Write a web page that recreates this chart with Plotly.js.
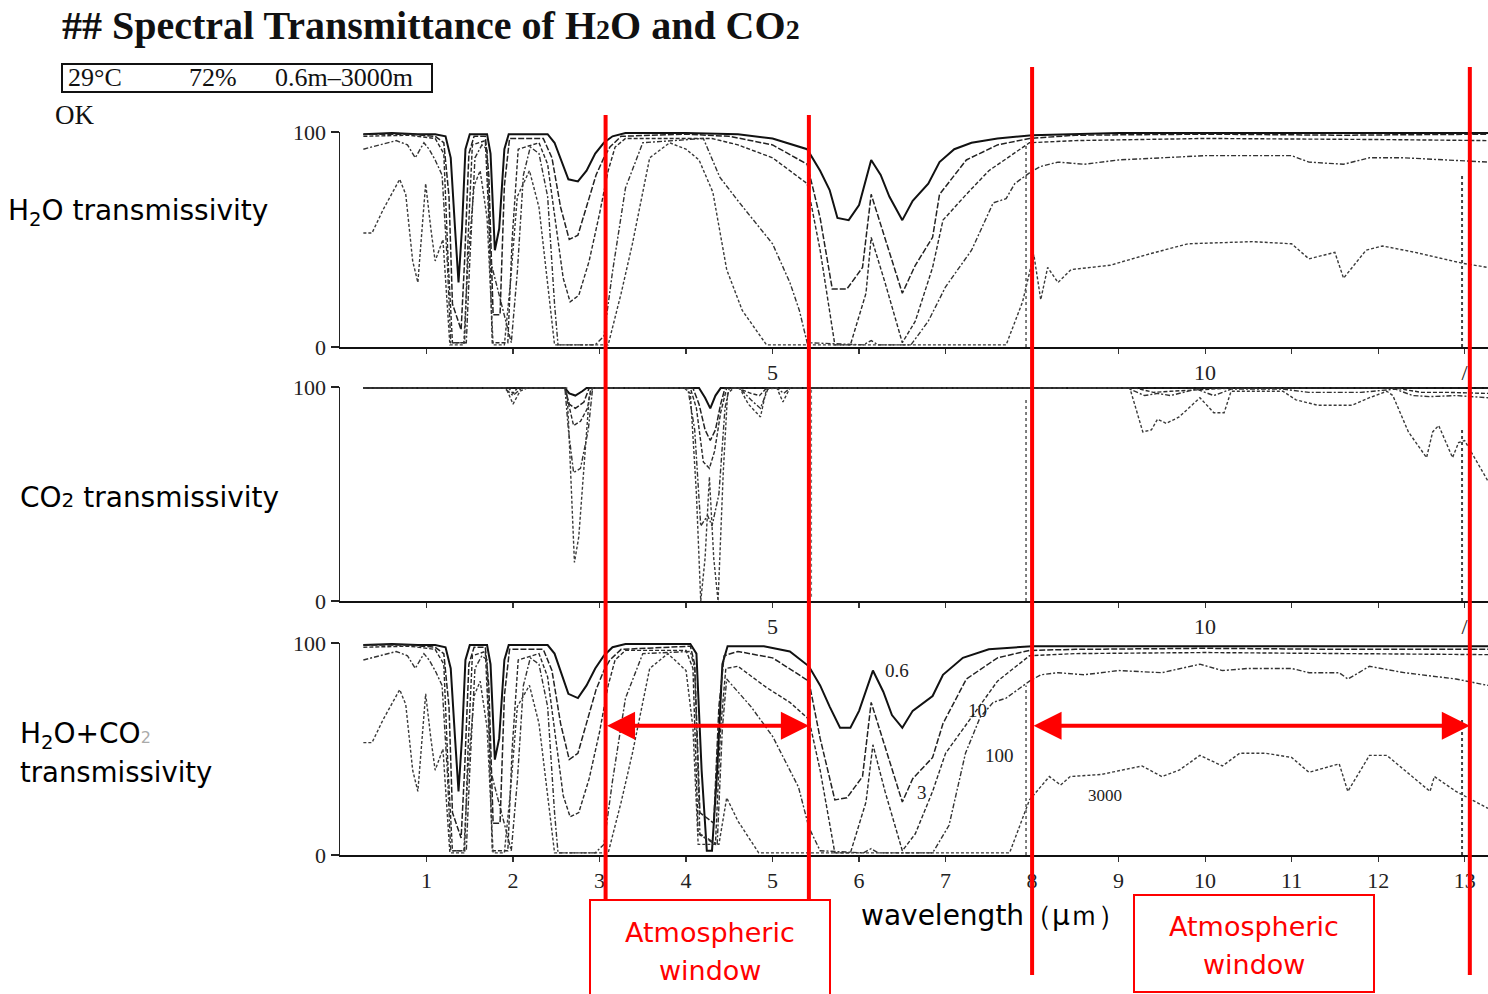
<!DOCTYPE html>
<html>
<head>
<meta charset="utf-8">
<script src="https://cdn.plot.ly/plotly-3.0.1.min.js"></script>
<style>html,body{margin:0;padding:0;background:#fff;}#chart{width:1488px;height:994px;}</style>
</head>
<body>
<div id="chart"></div>
<script>
// ---------- DATA (wavelength in µm, transmittance in %) ----------
const pathLengths = ["0.6", "3", "10", "100", "3000"];

// Panel 1: H2O transmissivity
const h2o_x_06 = [0.27,0.6,0.9,1.1,1.22,1.28,1.33,1.37,1.41,1.45,1.5,1.7,1.74,1.79,1.84,1.9,1.95,2.4,2.48,2.56,2.64,2.75,2.85,2.95,3.05,3.15,3.3,4.0,4.6,5.0,5.4,5.55,5.66,5.75,5.88,6.0,6.14,6.25,6.35,6.5,6.62,6.8,6.93,7.1,7.3,7.6,8.0,9,10,11,12,13,13.27];
const h2o_t_06 = [99,99.5,99,99,98,88,55,30,55,92,99,99,90,45,55,92,99,99,95,86,78,77,82,90,95,98,99.5,99.5,99,97,92,82,73,60,59,66,87,80,70,59,68,76,86,92,95,97,98.5,99.5,99.5,99.5,99.5,99.5,99.5];

const h2o_x_3 = [0.27,0.8,1.1,1.2,1.26,1.3,1.4,1.44,1.49,1.55,1.68,1.72,1.77,1.85,1.9,1.96,2.35,2.45,2.55,2.65,2.75,2.85,2.96,3.05,3.12,3.25,4.0,4.5,5.0,5.4,5.55,5.69,5.86,6.04,6.14,6.32,6.5,6.65,6.85,6.93,7.24,7.6,7.97,8.5,10,11.6,13.27];
const h2o_t_3 = [99,99,98,95,70,20,8,40,90,98,98,80,15,15,75,97,97,88,65,50,52,65,80,88,93,98,99,98,94,85,60,27,27,37,71,48,25,38,51,71,87,94,97,98.5,99,98.5,99];

const h2o_x_10 = [0.27,0.8,1.1,1.2,1.25,1.3,1.44,1.48,1.53,1.68,1.72,1.76,1.94,1.99,2.06,2.3,2.4,2.5,2.58,2.66,2.76,2.88,3.0,3.1,3.18,3.3,4.3,4.6,5.0,5.4,5.55,5.72,5.9,6.08,6.14,6.3,6.5,6.65,6.85,6.97,7.24,7.5,7.97,8.5,10,12,13.27];
const h2o_t_10 = [98,98.5,97,90,40,2,2,50,94,96,60,2,2,50,92,95,85,55,32,21,24,40,62,82,93,97,97,94,88,76,45,1,1,25,51,30,2,12,37,59,71,82,95,96,97,96.5,96];

const h2o_x_100 = [0.27,0.45,0.65,0.78,0.87,0.97,1.03,1.1,1.18,1.24,1.28,1.46,1.5,1.56,1.64,1.7,1.74,1.98,2.05,2.12,2.2,2.3,2.4,2.48,2.52,2.95,3.05,3.15,3.3,3.5,4.2,4.39,4.6,5.0,5.2,5.31,5.4,6.05,6.14,6.22,6.6,6.8,7.0,7.3,7.55,7.7,7.8,7.97,8.1,8.3,8.6,9.0,9.5,10.0,11.0,11.2,11.6,11.9,12.3,12.8,13.27];
const h2o_t_100 = [92,94,96,94,88,95,92,87,80,40,2,2,40,88,94,92,40,2,35,80,93,90,70,20,1,1,5,35,74,95,97,79,68,48,30,17,2,1,3,1,1,12,28,45,67,69,76,81,84,86,85,87,88,89,89,86,85,88,88,87,86];

const h2o_x_3000 = [0.27,0.37,0.5,0.69,0.76,0.84,0.9,0.99,1.05,1.1,1.19,1.27,1.43,1.48,1.55,1.62,1.7,1.77,1.9,1.97,2.05,2.19,2.3,2.4,2.48,3.1,3.25,3.38,3.58,3.81,4.0,4.15,4.31,4.47,4.65,4.93,7.7,7.89,7.97,8.02,8.1,8.18,8.3,8.45,8.9,9.33,9.8,10.55,11.0,11.2,11.5,11.6,11.86,12.05,12.43,12.97,13.27];
const h2o_t_3000 = [53,53,64,78,71,40,30,76,55,40,50,1,1,40,75,82,60,1,1,30,70,82,65,30,1,1,25,48,88,95,92,87,72,36,17,1,1,21,35,43,22,37,30,36,38,43,48,49,48,41,44,32,45,47,44,39,37];

// Panel 2: CO2 transmissivity
const co2_x_06 = [0.27,2.6,2.65,2.72,2.8,2.85,4.15,4.22,4.28,4.34,4.4,13.27];
const co2_t_06 = [99.5,99.5,97,96,98,99.5,99.5,95,90,96,99.5,99.5];

const co2_x_3 = [0.27,2.6,2.65,2.72,2.82,2.88,4.08,4.15,4.22,4.28,4.34,4.4,4.45,13.27];
const co2_t_3 = [99.5,99.5,92,90,93,99.5,99.5,92,80,75,80,92,99.5,99.5];

const co2_x_10 = [0.27,1.95,2.0,2.05,2.6,2.64,2.7,2.78,2.86,2.9,4.05,4.12,4.2,4.27,4.33,4.4,4.47,4.6,4.75,4.85,4.93,9.2,9.4,9.6,10.3,12.2,12.5,12.8,13.27];
const co2_t_10 = [99.5,99.5,97,99.5,99.5,92,82,84,90,99.5,99.5,90,65,62,70,88,99.5,99.5,97,96,99.5,99.5,97.5,98,99.5,99.5,97.5,97.5,97];

const co2_x_100 = [0.27,1.9,2.0,2.1,2.6,2.64,2.7,2.78,2.87,2.92,4.02,4.1,4.17,4.25,4.3,4.38,4.45,4.5,4.62,4.75,4.86,4.95,5.05,5.13,5.2,9.1,9.3,9.45,9.6,9.9,10.1,10.3,10.9,11.2,11.8,12.2,12.4,12.6,12.9,13.27];
const co2_t_100 = [99.5,99.5,96,99.5,99.5,80,60,62,80,99.5,99.5,80,35,40,35,50,90,99.5,99.5,94,90,99.5,99.5,97,99.5,99.5,96,97,96,99,96,99,99,97.5,97.5,99,96,95.5,96,95];

const co2_x_3000 = [0.27,1.92,2.0,2.08,2.16,2.62,2.64,2.68,2.71,2.76,2.84,2.88,2.92,3.98,4.05,4.12,4.17,4.22,4.27,4.32,4.37,4.43,4.48,4.55,4.62,4.72,4.86,4.93,5.05,5.12,5.2,9.13,9.28,9.38,9.45,9.55,9.7,9.94,10.1,10.22,10.3,10.9,11.05,11.3,11.7,11.9,12.1,12.17,12.35,12.56,12.63,12.7,12.86,12.93,13.0,13.27];
const co2_t_3000 = [99.5,99.5,92,98,99.5,99.5,85,50,18,30,75,95,99.5,99.5,97,50,0,20,58,20,0,60,97,99.5,99.5,92,86,99,99.5,93,99.5,99.5,79,80,85,83,86,95,88,88,98,98,94,91.5,91.5,95,98,96,79,67,79,82,67,74,75,56];

// Panel 3: H2O + CO2 transmissivity
const mix_x_06 = [0.27,0.6,0.9,1.1,1.22,1.28,1.33,1.37,1.41,1.45,1.5,1.7,1.74,1.79,1.84,1.9,1.95,2.4,2.48,2.56,2.64,2.75,2.85,2.95,3.05,3.15,3.3,4.05,4.12,4.18,4.24,4.3,4.36,4.42,4.48,4.9,5.2,5.42,5.55,5.66,5.78,5.9,6.0,6.16,6.28,6.38,6.5,6.62,6.85,6.97,7.2,7.5,8.0,9,10,11,12,13,13.27];
const mix_t_06 = [99,99.5,99,99,98,88,55,30,55,92,99,99,90,45,55,92,99,99,95,85,76,74,80,88,94,98,99.5,99.5,95,40,2,2,40,90,98.5,98.5,96,89,80,70,60,60,68,87,77,66,60,68,75,85,93,97,98.5,98.5,98.5,98.5,98.5,98.5,98.5];

const mix_x_3 = [0.27,0.8,1.1,1.2,1.26,1.3,1.4,1.44,1.49,1.55,1.68,1.72,1.77,1.85,1.9,1.96,2.35,2.45,2.55,2.65,2.75,2.85,2.96,3.05,3.12,3.25,4.05,4.1,4.16,4.32,4.38,4.44,4.6,5.0,5.42,5.55,5.72,5.86,6.04,6.14,6.32,6.5,6.62,6.85,6.97,7.24,7.6,7.97,8.5,10,11.6,13.27];
const mix_t_3 = [99,99,98,95,70,20,8,40,90,98,98,80,15,15,75,97,97,87,62,45,48,62,78,87,92,97,98.5,90,20,15,70,94,96,93,82,55,26,27,37,72,48,25,36,46,62,83,93,96.5,97,97.5,97,97];

const mix_x_10 = [0.27,0.8,1.1,1.2,1.25,1.3,1.44,1.48,1.53,1.68,1.72,1.76,1.94,1.99,2.06,2.3,2.4,2.5,2.58,2.66,2.76,2.88,3.0,3.1,3.18,3.3,4.0,4.08,4.14,4.34,4.4,4.46,4.6,4.93,5.2,5.42,5.55,5.72,5.9,6.08,6.16,6.3,6.5,6.65,6.85,7.0,7.3,7.6,7.97,8.5,10,12,13.27];
const mix_t_10 = [98,98.5,97,90,40,2,2,50,94,96,60,2,2,50,92,95,84,52,28,18,20,36,58,80,92,96.5,96.5,88,10,5,60,88,89,79,72,64,40,1,1,25,52,30,2,10,30,48,65,82,94,95,95.5,95,94.5];

const mix_x_100 = [0.27,0.45,0.65,0.78,0.87,0.97,1.03,1.1,1.18,1.24,1.28,1.46,1.5,1.56,1.64,1.7,1.74,1.98,2.05,2.12,2.2,2.3,2.4,2.48,2.52,2.95,3.05,3.15,3.3,3.5,4.05,4.1,4.16,4.36,4.42,4.47,4.75,5.0,5.3,5.42,5.55,6.05,6.14,6.22,6.85,7.04,7.23,7.4,7.55,7.7,7.97,8.1,8.3,8.6,9.0,9.5,9.94,10.2,10.5,11.0,11.2,11.55,11.65,11.9,12.3,12.9,13.27];
const mix_t_100 = [92,94,96,94,88,95,92,87,80,40,2,2,40,88,94,92,40,2,35,80,93,90,70,20,1,1,5,35,74,95,96,88,10,5,60,83,70,56,32,13,2,1,3,1,1,14,48,65,72,74,82,85,86,85,87,86,90,87,88,88,86,86,83,89,86,83,80];

const mix_x_3000 = [0.27,0.37,0.5,0.69,0.76,0.84,0.9,0.99,1.05,1.1,1.19,1.27,1.43,1.48,1.55,1.62,1.7,1.77,1.9,1.97,2.05,2.19,2.3,2.4,2.48,3.1,3.25,3.38,3.58,3.79,4.0,4.08,4.14,4.38,4.47,4.6,4.84,7.6,7.74,7.97,8.05,8.2,8.33,8.44,8.8,9.27,9.5,9.7,9.94,10.2,10.4,10.7,11.0,11.2,11.55,11.65,11.9,12.1,12.6,12.65,12.9,13.27];
const mix_t_3000 = [53,53,64,78,71,40,30,76,55,40,50,1,1,40,75,82,60,1,1,30,70,80,62,28,1,1,25,48,88,95,87,60,5,5,27,16,1,1,1,26,30,37,33,37,38,42,37,40,47,42,48,48,46,39,43,30,47,47,30,37,30,22];

// Axis ticks
const xTickVals = [1,2,3,4,5,6,7,8,9,10,11,12,13];
const xTickTextTop = ["","","","","5","","","","","10","","","/"];
const xTickTextBottom = ["1","2","3","4","5","6","7","8","9","10","11","12","13"];
const yTickVals = [0, 100];
const yTickText = ["0", "100"];

// Atmospheric window edges (µm) and arrow level (%)
const windowEdges = [3.07, 5.42, 8.0, 13.06];
const arrowLevel = 61;

// ---------- STYLE ----------
const W = 1488, H = 994;
const px = v => v / W;
const py = v => 1 - v / H;
const lineStyles = [
  {color:'#111', width:2.0, dash:'solid'},
  {color:'#222', width:1.5, dash:'6px,2px'},
  {color:'#2a2a2a', width:1.4, dash:'4px,2px'},
  {color:'#333', width:1.4, dash:'5px,2px,2px,2px'},
  {color:'#3a3a3a', width:1.4, dash:'3px,2px'}
];

const panels = [
  {xs:[h2o_x_06,h2o_x_3,h2o_x_10,h2o_x_100,h2o_x_3000], ts:[h2o_t_06,h2o_t_3,h2o_t_10,h2o_t_100,h2o_t_3000], xa:'x', ya:'y'},
  {xs:[co2_x_06,co2_x_3,co2_x_10,co2_x_100,co2_x_3000], ts:[co2_t_06,co2_t_3,co2_t_10,co2_t_100,co2_t_3000], xa:'x2', ya:'y2'},
  {xs:[mix_x_06,mix_x_3,mix_x_10,mix_x_100,mix_x_3000], ts:[mix_t_06,mix_t_3,mix_t_10,mix_t_100,mix_t_3000], xa:'x3', ya:'y3'}
];

const traces = [];
panels.forEach(p => {
  for (let i = 0; i < 5; i++) {
    traces.push({
      type:'scatter', mode:'lines', x:p.xs[i], y:p.ts[i], xaxis:p.xa, yaxis:p.ya,
      name: pathLengths[i] + ' m', line:lineStyles[i], cliponaxis:false, hoverinfo:'skip', showlegend:false
    });
  }
});

const tickFont = {family:'Liberation Serif, Times New Roman, serif', size:22, color:'#222'};
function xAxis(anchor, ticktext) {
  return {anchor:anchor, domain:[340/W, 1], range:[0, 13.27], showline:true, linecolor:'#111', linewidth:2,
    ticks:'outside', ticklen:5, tickwidth:1.2, tickcolor:'#333', tickvals:xTickVals, ticktext:ticktext,
    tickfont:tickFont, showgrid:false, zeroline:false, fixedrange:true};
}
function yAxis(anchor, top, bottom) {
  return {anchor:anchor, domain:[py(bottom), py(top)], range:[0, 100], showline:true, linecolor:'#222', linewidth:1.5,
    ticks:'outside', ticklen:8, tickwidth:1.5, tickcolor:'#222', tickvals:yTickVals, ticktext:yTickText,
    tickfont:tickFont, showgrid:false, zeroline:false, fixedrange:true};
}

const sansFont = 'DejaVu Sans, Liberation Sans, Arial, sans-serif';
const serifFont = 'Liberation Serif, Times New Roman, serif';
function note(text, x, y, size, opts) {
  return Object.assign({text:text, xref:'paper', yref:'paper', x:px(x), y:py(y), xanchor:'left', yanchor:'middle',
    showarrow:false, font:{family:sansFont, size:size, color:'#000'}}, opts || {});
}

const annotations = [
  note("<b>## Spectral Transmittance of H<span style='font-size:28px'>2</span>O and CO<span style='font-size:28px'>2</span></b>", 60, 25, 40, {font:{family:serifFont, size:40, color:'#111'}}),
  note("29°C", 66, 78, 26, {font:{family:serifFont, size:26, color:'#111'}}),
  note("72%", 187, 78, 26, {font:{family:serifFont, size:26, color:'#111'}}),
  note("0.6m–3000m", 273, 78, 26, {font:{family:serifFont, size:26, color:'#111'}}),
  note("OK", 53, 115, 27, {font:{family:serifFont, size:27, color:'#111'}}),
  note("H<sub>2</sub>O transmissivity", 6, 212, 28),
  note("CO<span style='font-size:20px'>2</span> transmissivity", 18, 497, 28),
  note("H<sub>2</sub>O+CO<span style='font-size:16px;color:#aaa'>2</span>", 18, 735, 28),
  note("transmissivity", 18, 772, 27.5),
  note("wavelength（μｍ）", 859, 915, 28),
  note("Atmospheric", 710, 932, 27, {xanchor:'center', font:{family:sansFont, size:27, color:'#ff0000'}}),
  note("window", 710, 970, 27, {xanchor:'center', font:{family:sansFont, size:27, color:'#ff0000'}}),
  note("Atmospheric", 1254, 926, 27, {xanchor:'center', font:{family:sansFont, size:27, color:'#ff0000'}}),
  note("window", 1254, 964, 27, {xanchor:'center', font:{family:sansFont, size:27, color:'#ff0000'}}),
  // curve labels in bottom panel
  note("0.6", 897, 670, 19, {xanchor:'center', font:{family:serifFont, size:19, color:'#222'}}),
  note("10", 977, 710, 19, {xanchor:'center', font:{family:serifFont, size:19, color:'#222'}}),
  note("100", 999, 755, 19, {xanchor:'center', font:{family:serifFont, size:19, color:'#222'}}),
  note("3", 922, 792, 19, {xanchor:'center', font:{family:serifFont, size:19, color:'#222'}}),
  note("3000", 1105, 795, 17, {xanchor:'center', font:{family:serifFont, size:17, color:'#222'}}),
  // double arrows marking the atmospheric windows
  {xref:'x3', yref:'y3', axref:'x3', ayref:'y3', x:windowEdges[1], y:arrowLevel, ax:windowEdges[0], ay:arrowLevel,
   text:'', showarrow:true, arrowside:'end+start', arrowhead:2, startarrowhead:2, arrowsize:1.4, startarrowsize:1.4,
   arrowwidth:4, arrowcolor:'#ff0000', standoff:0, startstandoff:0},
  {xref:'x3', yref:'y3', axref:'x3', ayref:'y3', x:windowEdges[3], y:arrowLevel, ax:windowEdges[2], ay:arrowLevel,
   text:'', showarrow:true, arrowside:'end+start', arrowhead:2, startarrowhead:2, arrowsize:1.4, startarrowsize:1.4,
   arrowwidth:4, arrowcolor:'#ff0000', standoff:0, startstandoff:0}
];

const shapes = [
  {type:'rect', xref:'paper', yref:'paper', x0:px(62), x1:px(432), y0:py(92), y1:py(64), line:{color:'#111', width:2}},
  {type:'rect', xref:'paper', yref:'paper', x0:px(590), x1:px(830), y0:py(1000), y1:py(900), line:{color:'#ff0000', width:2}},
  {type:'rect', xref:'paper', yref:'paper', x0:px(1134), x1:px(1374), y0:py(992), y1:py(895), line:{color:'#ff0000', width:2}}
];
// scanned dotted cut-off marks of the original figure
[['y',95],['y2',95],['y3',80]].forEach(([ya, top], k) => {
  const xa = ['x','x2','x3'][k];
  shapes.push({type:'line', xref:xa, yref:ya, x0:7.93, x1:7.93, y0:0, y1:top, line:{color:'#555', width:1.5, dash:'dot'}});
  shapes.push({type:'line', xref:xa, yref:ya, x0:12.97, x1:12.97, y0:0, y1:top - 15, line:{color:'#444', width:2, dash:'dot'}});
});
shapes.push({type:'line', xref:'x2', yref:'y2', x0:5.45, x1:5.45, y0:2, y1:99, line:{color:'#777', width:1.2, dash:'dot'}});
// red window boundary lines
const redTops = [115, 115, 67, 67], redBottoms = [900, 900, 975, 975];
windowEdges.forEach((e, i) => {
  shapes.push({type:'line', xref:'x3', yref:'paper', x0:e, x1:e, y0:py(redBottoms[i]), y1:py(redTops[i]), line:{color:'#ff0000', width:4}});
});

const layout = {
  width:W, height:H, margin:{l:0, r:0, t:0, b:0}, paper_bgcolor:'#fff', plot_bgcolor:'rgba(0,0,0,0)',
  showlegend:false,
  xaxis: xAxis('y', xTickTextTop), yaxis: yAxis('x', 132, 347),
  xaxis2: xAxis('y2', xTickTextTop), yaxis2: yAxis('x2', 387, 601),
  xaxis3: xAxis('y3', xTickTextBottom), yaxis3: yAxis('x3', 643, 855),
  annotations: annotations, shapes: shapes
};

Plotly.newPlot('chart', traces, layout, {staticPlot:true, displayModeBar:false});
</script>
</body>
</html>
